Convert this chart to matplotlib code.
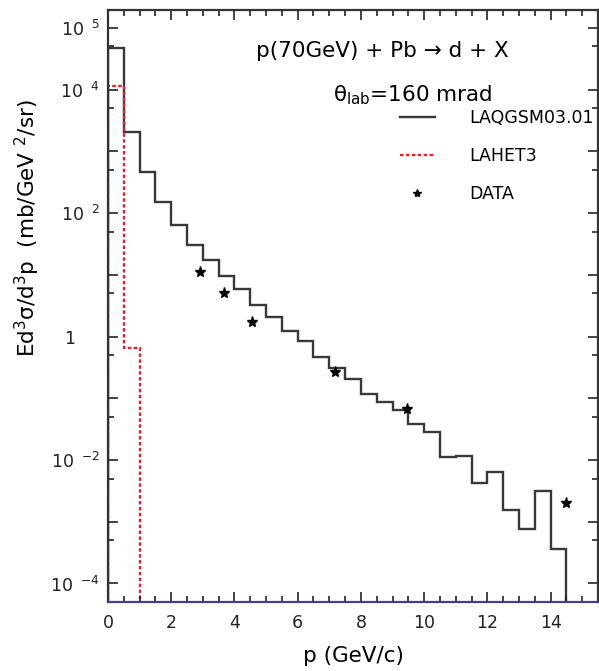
import numpy as np
import matplotlib
matplotlib.use("Agg")
import matplotlib.pyplot as plt
from matplotlib.lines import Line2D
from matplotlib.transforms import ScaledTranslation

# histogram bins (GeV/c)
edges_laqgsm = np.arange(0, 14.51, 0.5)
laqgsm = [4.8e4, 2.04e3, 458, 153, 64.1, 30.4, 17.4, 9.66, 5.82, 3.24,
          2.05, 1.23, 0.855, 0.471, 0.312, 0.202, 0.118, 0.0877, 0.0644, 0.0382,
          0.028, 0.0110, 0.0116, 0.00423, 0.00637, 0.00154, 0.00075, 0.00317, 0.000356]

edges_lahet = [0.0, 0.5, 1.0]
lahet = [1.15e4, 0.66]

# measured points
p_data = [2.92, 3.68, 4.57, 7.18, 9.45, 14.5]
xs_data = [11.2, 5.01, 1.75, 0.263, 0.0668, 0.00198]

ytick_vals = [1e5, 1e4, 1e3, 1e2, 1e1, 1, 1e-1, 1e-2, 1e-3, 1e-4]
ytick_labels = [r'$\mathregular{10}^{\ \ \mathregular{5}}$', r'$\mathregular{10}^{\ \ \mathregular{4}}$', '',
                r'$\mathregular{10}^{\ \ \mathregular{2}}$', '', '1', '',
                r'$\mathregular{10}^{\ \ \mathregular{-2}}$', '', r'$\mathregular{10}^{\ \ \mathregular{-4}}$']

fig = plt.figure(figsize=(5.99, 6.71), dpi=100)
fig.subplots_adjust(left=108/599, right=598/599, bottom=69/671, top=1-10/671)
ax = fig.add_subplot(111)

ax.stairs(laqgsm, edges_laqgsm, baseline=1e-7, color='#383838', lw=1.7, label='LAQGSM03.01')
ax.stairs(lahet, edges_lahet, baseline=1e-7, color='#e8202a', lw=1.7,
          linestyle=(0, (1.5, 1.0)), label='LAHET3')
ax.plot(p_data, xs_data, linestyle='none', marker='*', color='black', markersize=8, label='DATA')

ax.set_yscale('log')
ax.set_xlim(0, 15.5)
ax.set_ylim(10**-4.30, 10**5.29)

ax.set_yticks(ytick_vals)
ax.set_yticklabels(ytick_labels)
ax.yaxis.set_minor_locator(matplotlib.ticker.FixedLocator([5 * v for v in ytick_vals[1:]] + [5e-5]))
ax.yaxis.set_minor_formatter(matplotlib.ticker.NullFormatter())
ax.set_xticks(np.arange(0, 15, 2))
ax.xaxis.set_minor_locator(matplotlib.ticker.MultipleLocator(0.5))

ax.tick_params(which='both', direction='in', top=True, right=True, labelsize=12.5, colors='#222222')
ax.tick_params(which='major', length=7.5, width=1.2)
ax.tick_params(which='minor', length=4, width=1.2)
ax.tick_params(axis='x', pad=9)
ax.tick_params(axis='y', pad=6)

for s in ['left', 'top', 'right']:
    ax.spines[s].set_linewidth(1.6)
    ax.spines[s].set_color('#333333')
ax.spines['bottom'].set_linewidth(1.6)
ax.spines['bottom'].set_color('#4a3a90')

# shift the "1" label to line up with the "10" of the others
for lab in ax.get_yticklabels():
    if lab.get_text() == '1':
        lab.set_transform(lab.get_transform() + ScaledTranslation(-18/72, 0, fig.dpi_scale_trans))

ax.set_xlabel('p (GeV/c)', fontsize=15.5)
ax.xaxis.set_label_coords(0.5, -0.075)
ax.set_ylabel(r'E$\mathregular{d^3}$σ/$\mathregular{d^3}$p  (mb/GeV $\mathregular{^2}$/sr)', fontsize=15.5)
ax.yaxis.set_label_coords(-0.135, 0.632)

ax.text(0.559, 0.921, 'p(70GeV) + Pb → d + X', transform=ax.transAxes,
        ha='center', va='baseline', fontsize=15.5)
ax.text(0.621, 0.845, r'θ$_{\mathregular{lab}}$=160 mrad', transform=ax.transAxes,
        ha='center', va='baseline', fontsize=15.5)

handles = [Line2D([], [], color='#383838', lw=1.7),
           Line2D([], [], color='#e8202a', lw=1.7, linestyle=(0, (1.5, 1.0))),
           Line2D([], [], linestyle='none', marker='*', color='black', markersize=6)]
ax.legend(handles, ['LAQGSM03.01', 'LAHET3', 'DATA'], loc='upper left',
          bbox_to_anchor=(0.596, 0.833), frameon=False, fontsize=12.5,
          handlelength=2.0, handletextpad=2.0, labelspacing=1.15,
          borderpad=0, borderaxespad=0, numpoints=1)

fig.savefig('out.png', dpi=100)
